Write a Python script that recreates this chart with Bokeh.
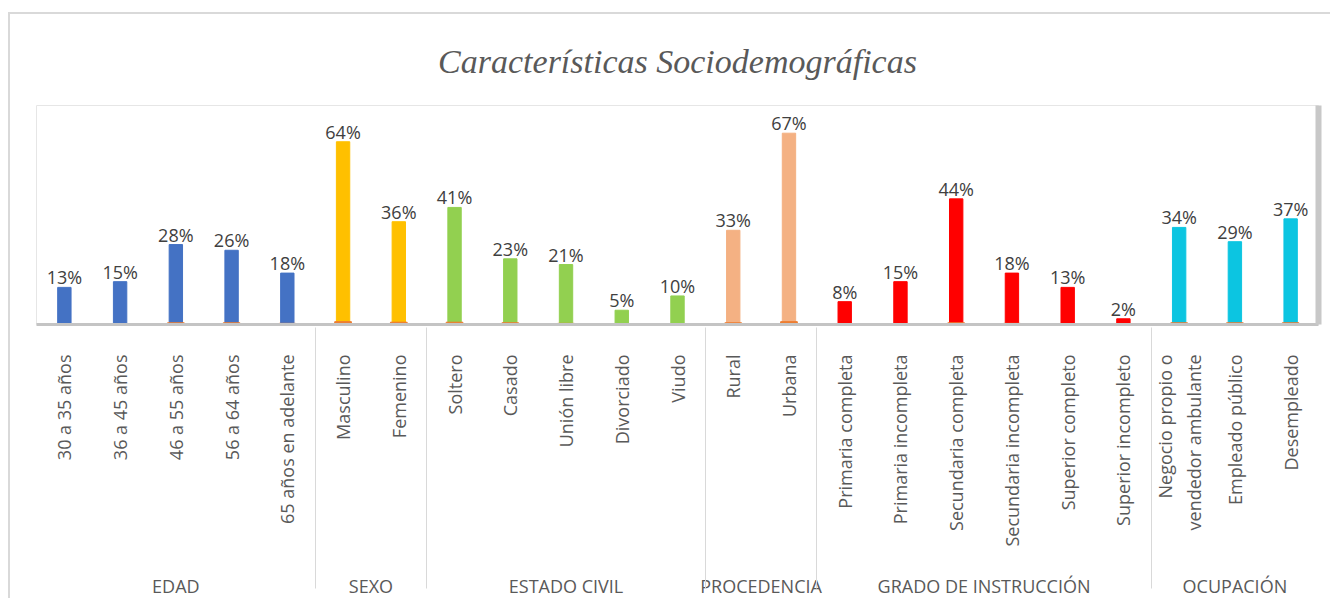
import math
from bokeh.plotting import figure
from bokeh.models import FactorRange, ColumnDataSource, LabelSet, LinearAxis, Range1d, FixedTicker
from bokeh.core.properties import value
from bokeh.embed import file_html
from bokeh.resources import INLINE

# ---------------- data ----------------
groups = ["EDAD", "SEXO", "ESTADO CIVIL", "PROCEDENCIA", "GRADO DE INSTRUCCIÓN", "OCUPACIÓN"]

edad_cats = ["30 a 35 años", "36 a 45 años", "46 a 55 años", "56 a 64 años", "65 años en adelante"]
edad_vals = [0.13, 0.15, 0.28, 0.26, 0.18]

sexo_cats = ["Masculino", "Femenino"]
sexo_vals = [0.64, 0.36]

civil_cats = ["Soltero", "Casado", "Unión libre", "Divorciado", "Viudo"]
civil_vals = [0.41, 0.23, 0.21, 0.05, 0.10]

proc_cats = ["Rural", "Urbana"]
proc_vals = [0.33, 0.67]

grado_cats = ["Primaria completa", "Primaria incompleta", "Secundaria completa",
              "Secundaria incompleta", "Superior completo", "Superior incompleto"]
grado_vals = [0.08, 0.15, 0.44, 0.18, 0.13, 0.02]

ocup_cats = ["Negocio propio o\nvendedor ambulante", "Empleado público", "Desempleado"]
ocup_vals = [0.34, 0.29, 0.37]

# small second series visible at the base of some bars
serie2_vals = [0, 0, 0.006, 0.006, 0.004,
               0.01, 0.008,
               0.008, 0.006, 0.004, 0, 0,
               0.006, 0.01,
               0, 0, 0.006, 0.004, 0, 0,
               0.006, 0.006, 0.006]

group_colors = ["#4472C4", "#FFC000", "#92D050", "#F4B183", "#FF0000", "#0CC5E1"]

cat_lists = [edad_cats, sexo_cats, civil_cats, proc_cats, grado_cats, ocup_cats]
val_lists = [edad_vals, sexo_vals, civil_vals, proc_vals, grado_vals, ocup_vals]

factors, values, colors, labels = [], [], [], []
for g, cats, vals, col in zip(groups, cat_lists, val_lists, group_colors):
    for c, v in zip(cats, vals):
        factors.append((g, c))
        values.append(v)
        colors.append(col)
        labels.append(f"{round(v * 100)}%")

src = ColumnDataSource(dict(x=factors, top=values, color=colors, label=labels, s2=serie2_vals))

FONT = "Open Sans"

# ---------------- figure ----------------
p = figure(
    x_range=FactorRange(*factors, range_padding=0, group_padding=0, factor_padding=0),
    y_range=Range1d(0, 0.767),
    width=1322, height=586,
    output_backend="svg", toolbar_location=None,
    min_border_left=26, min_border_right=14, min_border_top=91, min_border_bottom=270,
    title="Características Sociodemográficas",
)
p.styles = {"margin-left": "8px", "margin-top": "12px",
            "border-left": "2px solid #d9d9d9", "border-top": "2px solid #d9d9d9"}

p.title.align = "center"
p.title.text_font = "Liberation Serif"
p.title.text_font_style = "italic"
p.title.text_font_size = "34px"
p.title.text_color = "#595959"
p.title.standoff = 51

p.vbar(x="x", top="top", width=0.24, color="color", source=src)
p.vbar(x="x", top="s2", width=0.3, color="#ED7D31", source=src)

p.add_layout(LabelSet(x="x", y="top", text="label", source=src, text_align="center",
                      text_baseline="alphabetic", y_offset=3, text_font=value(FONT),
                      text_font_size=value("18px"), text_color=value("#404040")))

p.yaxis.visible = False
p.xgrid.visible = False
p.ygrid.visible = False
p.outline_line_color = "#e6e6e6"
p.background_fill_color = "white"
p.border_fill_color = "white"

ax = p.xaxis[0]
ax.major_label_orientation = math.pi / 2
ax.major_label_standoff = 24
ax.major_label_text_font = FONT
ax.major_label_text_font_size = "18px"
ax.major_label_text_color = "#595959"
ax.group_text_font = FONT
ax.group_text_font_size = "18px"
ax.group_text_color = "#595959"
ax.group_text_font_style = "normal"
ax.major_tick_line_color = None
ax.minor_tick_line_color = None
ax.axis_line_color = "#c4c4c4"
ax.axis_line_width = 3
ax.separator_line_color = "#d9d9d9"
ax.separator_line_width = 1

right = LinearAxis(ticker=FixedTicker(ticks=[]), major_tick_line_color=None,
                   minor_tick_line_color=None, axis_line_color="#c8c8c8", axis_line_width=6)
p.add_layout(right, "right")

open("out.html", "w").write(file_html(p, INLINE))
